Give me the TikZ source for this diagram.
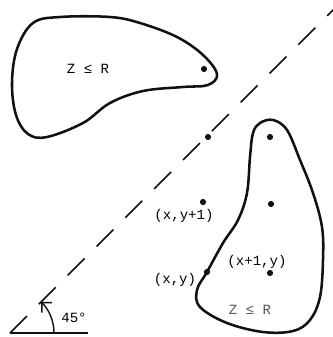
\documentclass[tikz,border=0pt]{standalone}
\usepackage{fontspec}
\setmonofont{Liberation Mono}
\usetikzlibrary{arrows.meta}

\begin{document}
\begin{tikzpicture}[
    x=0.025cm, y=0.025cm,
    every node/.style={font=\ttfamily\fontsize{10}{12}\selectfont},
]

% ---------------------------------------------------------------- colours
\definecolor{ink}{HTML}{111111}
\definecolor{faded}{HTML}{555555}

\tikzset{
    region/.style={ink, line width=1.8pt, line join=round},
    cut/.style={ink, line width=1.1pt, dash pattern=on 17pt off 12pt},
    site/.style={circle, fill=ink, inner sep=0pt, minimum size=4.4pt},
    ground/.style={ink, line width=1.6pt},
}

\useasboundingbox (0,0) rectangle (332,337);

% ================================================================
% pixel grid: 332 x 337, origin bottom left
% ================================================================

% ----------------------------------------------------------------------
% the 45 degree cut
% ----------------------------------------------------------------------
\coordinate (o) at (10,4);
\coordinate (gnd) at (88,4);
\coordinate (top) at (333,327);

\draw[ground] (o) -- (gnd);
\draw[cut] (o) -- (top);

\draw[ink, line width=1pt, -{Straight Barb[length=5pt]}]
    (54,4) arc (0:45:44);
\node (ang) at (74,19) {45°};

% ----------------------------------------------------------------------
% upper region
% ----------------------------------------------------------------------
\draw[region] plot[smooth cycle, tension=0.6] coordinates {
    (33,314) (60,320) (110,320) (140,314) (177,300) (203,282)
    (217,263) (208,252) (183,250) (143,246) (110,234) (83,214)
    (47,200) (28,203) (16,222) (12,254) (17,288)};
\node[site] (up) at (204,268) {};
\node (zup) at (88,268) {Z ≤ R};

% ----------------------------------------------------------------------
% lower region
% ----------------------------------------------------------------------
\draw[region] plot[smooth cycle, tension=0.6] coordinates {
    (260,214) (273,217) (287,207) (300,177) (313,144) (322,110)
    (323,77) (320,40) (310,17) (293,6) (263,5) (227,14)
    (200,30) (197,47) (207,65) (223,94) (238,117) (247,144)
    (250,180) (253,204)};

\node[site] (cutpt) at (208,200) {};
\node[site] (a) at (270,200) {};
\node[site] (b) at (271,133) {};
\node[site] (c) at (270,64) {};
\node[site] (xy1) at (203,135) {};
\node[site] (xy) at (207,65) {};

\node (lxy1) at (184,121) {(x,y+1)};
\node (lx1y) at (257,75) {(x+1,y)};
\node (lxy) at (175,57) {(x,y)};
\node[text=faded] (zlow) at (250,27) {Z ≤ R};

\end{tikzpicture}
\end{document}
